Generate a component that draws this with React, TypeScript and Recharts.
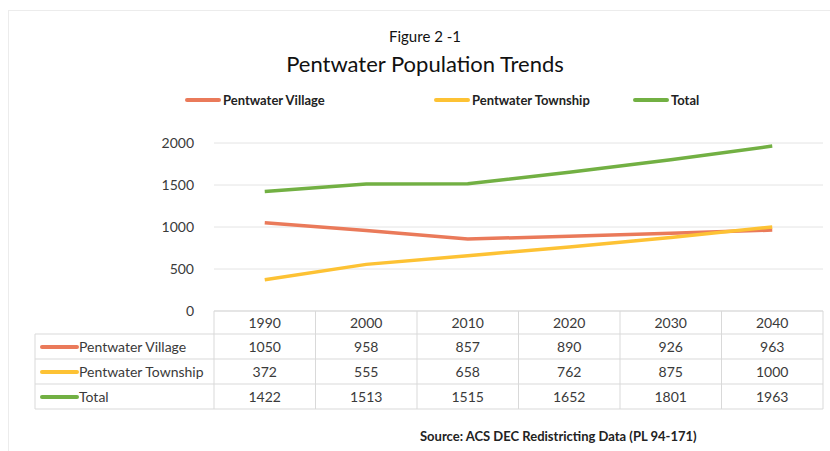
import { LineChart, Line, XAxis, YAxis, CartesianGrid } from 'recharts'

const years = ['1990', '2000', '2010', '2020', '2030', '2040']
const village = [1050, 958, 857, 890, 926, 963]
const township = [372, 555, 658, 762, 875, 1000]
const total = [1422, 1513, 1515, 1652, 1801, 1963]
const yTicks = [0, 500, 1000, 1500, 2000]

const SERIES = [
  { key: 'village', name: 'Pentwater Village', color: '#EA7A5A', values: village },
  { key: 'township', name: 'Pentwater Township', color: '#FDC234', values: township },
  { key: 'total', name: 'Total', color: '#72B043', values: total },
]

const data = years.map((year, i) => ({
  year,
  village: village[i],
  township: township[i],
  total: total[i],
}))

const FONT = 'Lato, "Open Sans", sans-serif'
const TEXT = '#3a3a3a'
const GRID = '#d9d9d9'
const PLOT_LEFT = 214
const PLOT_RIGHT = 823
const PLOT_BOTTOM = 311
const BAND = (PLOT_RIGHT - PLOT_LEFT) / years.length
const ROW_LINES = [334, 359, 384, 409]
const ROW_TEXT = [352, 377, 402]
const TABLE_LEFT = 35

// x-axis tick draws a whole column of the data table
function TableColumn(props: any) {
  const { x, payload } = props
  const i = payload.index
  const half = BAND / 2
  return (
    <g fontFamily={FONT} fontSize={14} fill={TEXT}>
      {i === 0 && (
        <g>
          {ROW_LINES.map((y) => (
            <line key={y} x1={TABLE_LEFT} x2={PLOT_RIGHT} y1={y} y2={y} stroke={GRID} />
          ))}
          <line x1={TABLE_LEFT} x2={TABLE_LEFT} y1={ROW_LINES[0]} y2={ROW_LINES[3]} stroke={GRID} />
          {SERIES.map((s, r) => (
            <g key={s.key}>
              <line x1={42} x2={77} y1={ROW_TEXT[r] - 5} y2={ROW_TEXT[r] - 5} stroke={s.color} strokeWidth={4} strokeLinecap="round" />
              <text x={79} y={ROW_TEXT[r]} fill={TEXT}>{s.name}</text>
            </g>
          ))}
        </g>
      )}
      <line x1={x - half} x2={x - half} y1={PLOT_BOTTOM} y2={ROW_LINES[3]} stroke={GRID} />
      {i === years.length - 1 && (
        <line x1={x + half} x2={x + half} y1={PLOT_BOTTOM} y2={ROW_LINES[3]} stroke={GRID} />
      )}
      <text x={x} y={328} textAnchor="middle" fill={TEXT}>{payload.value}</text>
      {SERIES.map((s, r) => (
        <text key={s.key} x={x} y={ROW_TEXT[r]} textAnchor="middle" fill={TEXT}>
          {s.values[i]}
        </text>
      ))}
    </g>
  )
}

function LegendRow() {
  const lefts = [185, 434, 633]
  return (
    <div style={{ position: 'absolute', top: 92, left: 0, width: 830, height: 20, fontFamily: FONT }}>
      {SERIES.map((s, i) => (
        <div key={s.key} style={{ position: 'absolute', left: lefts[i], top: 0, display: 'flex', alignItems: 'center' }}>
          <span style={{ display: 'inline-block', width: 36, height: 4, borderRadius: 2, background: s.color, marginRight: 2 }} />
          <span style={{ fontSize: 13, fontWeight: 700, color: '#222' }}>{s.name}</span>
        </div>
      ))}
    </div>
  )
}

export default function App() {
  return (
    <div style={{ position: 'absolute', left: 0, top: 0, width: 830, height: 451, background: '#fff', overflow: 'hidden' }}>
      <div style={{ position: 'absolute', left: 8, top: 10, width: 840, height: 460, border: '1px solid #ececec' }} />
      <div style={{ position: 'absolute', left: 0, top: 27, width: 850, textAlign: 'center', fontFamily: FONT, fontSize: 15, color: '#111' }}>
        Figure 2 -1
      </div>
      <div style={{ position: 'absolute', left: 0, top: 50, width: 850, textAlign: 'center', fontFamily: FONT, fontSize: 22, color: '#111' }}>
        Pentwater Population Trends
      </div>
      <LegendRow />
      <LineChart width={830} height={451} data={data} margin={{ top: 143, right: 830 - PLOT_RIGHT, bottom: 0, left: PLOT_LEFT - 60 }}>
        <CartesianGrid horizontal vertical={false} stroke="#e4e4e4" />
        <XAxis
          dataKey="year"
          height={140}
          axisLine={{ stroke: GRID }}
          tickLine={false}
          interval={0}
          padding={{ left: BAND / 2, right: BAND / 2 }}
          tick={<TableColumn />}
        />
        <YAxis
          width={60}
          domain={[0, 2000]}
          ticks={yTicks}
          axisLine={false}
          tickLine={false}
          tickMargin={14}
          tick={{ fontFamily: FONT, fontSize: 14, fill: TEXT }}
        />
        {SERIES.map((s) => (
          <Line
            key={s.key}
            dataKey={s.key}
            name={s.name}
            stroke={s.color}
            strokeWidth={3.5}
            dot={false}
            activeDot={false}
            isAnimationActive={false}
          />
        ))}
      </LineChart>
      <div style={{ position: 'absolute', left: 420, top: 428, fontFamily: FONT, fontSize: 13, fontWeight: 700, color: '#222' }}>
        Source: ACS DEC Redistricting Data (PL 94-171)
      </div>
    </div>
  )
}
